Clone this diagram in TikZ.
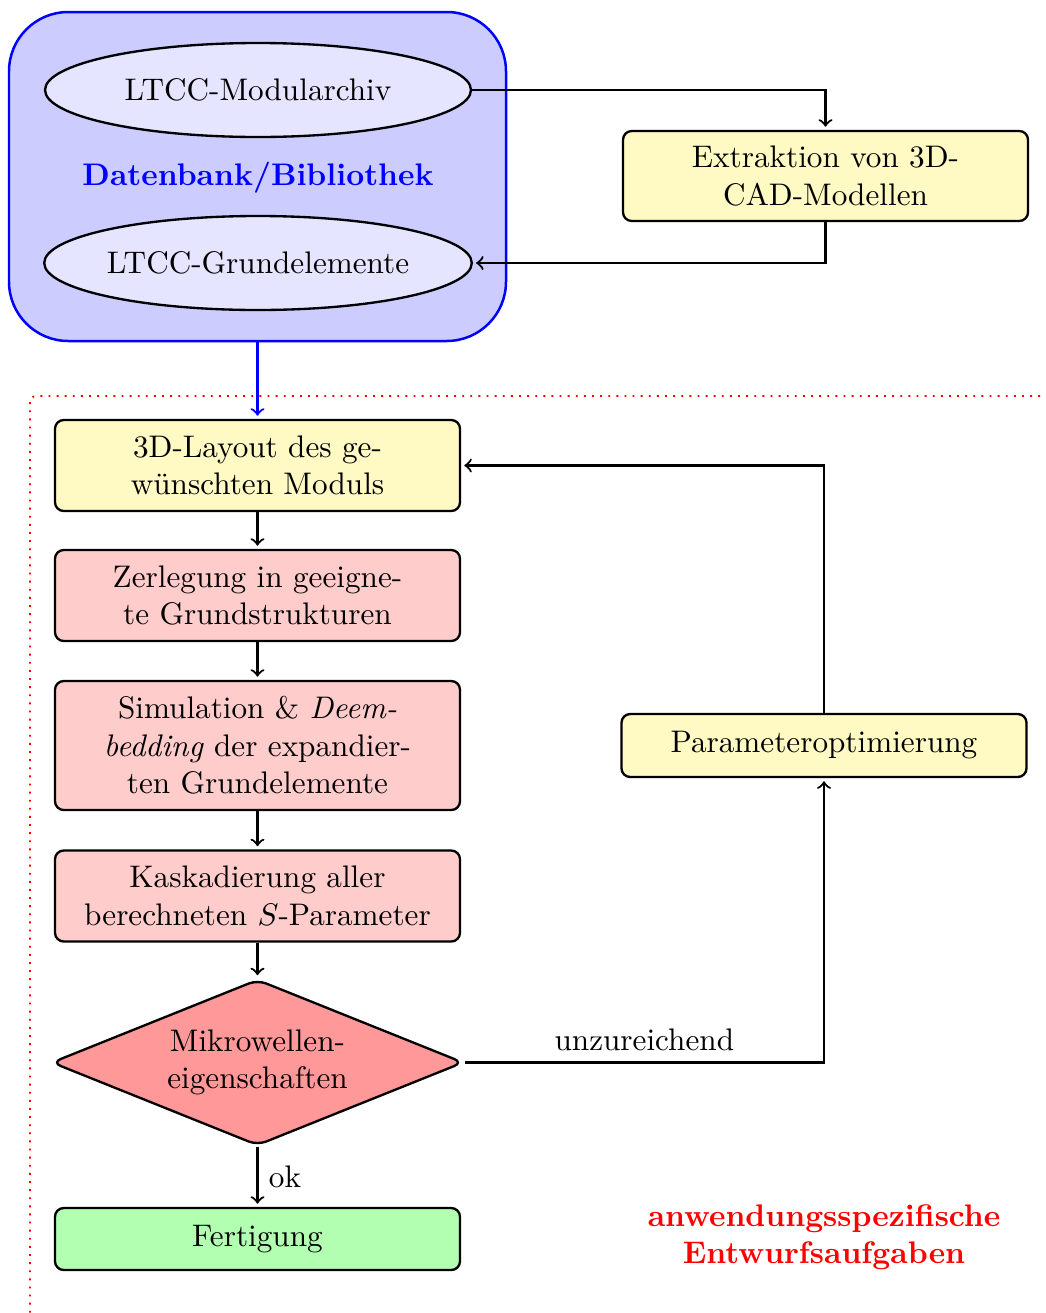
\documentclass[tikz,border=0pt]{standalone}
\usetikzlibrary{shapes.geometric}
\definecolor{paleyellow}{RGB}{255,249,196}
\def\pxu{0.3205pt}
\begin{document}
\begin{tikzpicture}[x=0.3205pt,y=-0.3205pt,
  flowbox/.style={draw, line width=0.75pt, rounded corners=2.8pt, align=center,
    minimum width=405*\pxu, inner sep=2pt},
  yellowbox/.style={flowbox, fill=paleyellow},
  pinkbox/.style={flowbox, fill=red!20},
  greenbox/.style={flowbox, fill=green!30},
  dbell/.style={ellipse, draw, line width=0.75pt, fill=blue!10,
    minimum width=426*\pxu, minimum height=94*\pxu, inner sep=0pt},
  decision/.style={diamond, draw, line width=0.75pt, fill=red!40, align=center,
    aspect=2.48, rounded corners=3pt, minimum width=412*\pxu,
    minimum height=166*\pxu, inner sep=0pt},
  conn/.style={->, line width=0.7pt, shorten >=1pt}
]
\useasboundingbox (0,0) rectangle (1045,1313);
\clip (0,0) rectangle (1045,1313);

% frame around the application-specific design steps
\draw[red, dotted, line width=0.6pt, rounded corners=2pt]
  (30,396) rectangle (1200,1450);

% database / library
\node[draw=blue, fill=blue!20, line width=0.8pt, rounded corners=19pt,
  minimum width=497*\pxu, minimum height=329*\pxu] (db) at (257.5,176.5) {};
\node[dbell] (arch) at (258,90) {LTCC-Modularchiv};
\node[text=blue, font=\bfseries] (dblabel) at (258,178) {Datenbank/Bibliothek};
\node[dbell] (grund) at (258,263) {LTCC-Grundelemente};

\node[yellowbox, minimum height=90*\pxu] (cad) at (825.5,176)
  {Extraktion von 3D-\\CAD-Modellen};
\draw[conn] (arch.east) -| (cad.north);
\draw[conn] (cad.south) |- (grund.east);

% design flow
\node[yellowbox, minimum height=91*\pxu] (layout) at (257.5,465.5)
  {3D-Layout des ge-\\wünschten Moduls};
\node[pinkbox, minimum height=91*\pxu] (zer) at (257.5,595.5)
  {Zerlegung in geeigne-\\te Grundstrukturen};
\node[pinkbox, minimum height=129*\pxu] (sim) at (257.5,745.5)
  {Simulation \& \emph{Deem-}\\\emph{bedding} der expandier-\\ten Grundelemente};
\node[pinkbox, minimum height=91*\pxu] (kas) at (257.5,896)
  {Kaskadierung aller\\berechneten $S$-Parameter};
\node[decision] (mw) at (257.5,1062.5) {Mikrowellen-\\eigenschaften};
\node[greenbox, minimum height=62*\pxu] (fert) at (257.5,1239) {Fertigung};
\node[yellowbox, minimum height=63*\pxu] (param) at (824,745.5)
  {Parameteroptimierung};

\draw[conn, blue] (db.south) -- (layout.north);
\draw[conn] (layout) -- (zer);
\draw[conn] (zer) -- (sim);
\draw[conn] (sim) -- (kas);
\draw[conn] (kas) -- (mw);
\draw[conn] (mw.south) -- node[right] {ok} (fert.north);
\draw[conn] (mw.east) -| node[pos=0.25, above] {unzureichend} (param.south);
\draw[conn] (param.north) |- (layout.east);

\node[text=red, font=\bfseries, align=center] (aufg) at (824,1237)
  {anwendungsspezifische\\Entwurfsaufgaben};
\end{tikzpicture}
\end{document}
